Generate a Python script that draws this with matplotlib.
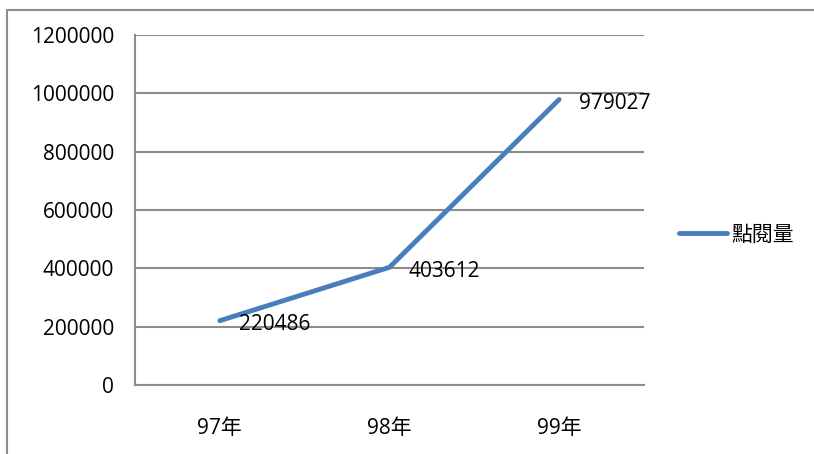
import matplotlib
matplotlib.use('Agg')
import matplotlib.pyplot as plt
from matplotlib.patches import Rectangle

years = ['97年', '98年', '99年']
views = [220486, 403612, 979027]
yticks = [0, 200000, 400000, 600000, 800000, 1000000, 1200000]

fonts = ['Open Sans', 'Noto Sans CJK TC', 'DejaVu Sans']
plt.rcParams['font.family'] = fonts
grey = '#8c8c8c'
blue = '#4a7ebb'

W, H = 814, 454
fig = plt.figure(figsize=(W / 100, H / 100), dpi=100)
ax = fig.add_axes([135 / W, 1 - 385 / H, (644 - 135) / W, (385 - 35) / H])

# outer chart border (only top and left are inside the picture)
fig.add_artist(Rectangle((7 / W, -0.2), 1.2, 1 - 10 / H + 0.2,
                         transform=fig.transFigure, fill=False,
                         edgecolor=grey, lw=1.5))

x = range(len(years))
ax.plot(x, views, color=blue, lw=3.5, solid_capstyle='round', label='點閱量')
for i, v in zip(x, views):
    ax.annotate(str(v), (i, v), xytext=(14, -3), textcoords='offset points',
                ha='left', va='center', fontsize=15, color='black')

ax.set_xlim(-0.5, 2.5)
ax.set_ylim(0, 1200000)
ax.set_yticks(yticks)
ax.set_yticklabels([str(t) for t in yticks])
ax.set_xticks(list(x))
ax.set_xticklabels(years)
ax.tick_params(axis='y', length=0, pad=15, labelsize=15)
ax.tick_params(axis='x', length=0, pad=24, labelsize=15)
ax.yaxis.grid(True, color=grey, lw=1.5)
ax.set_axisbelow(True)
for s in ['top', 'right']:
    ax.spines[s].set_visible(False)
for s in ['left', 'bottom']:
    ax.spines[s].set_color(grey)
    ax.spines[s].set_linewidth(1.5)

fig.legend(loc='center left', bbox_to_anchor=(660 / W, 1 - 235 / H),
           frameon=False, fontsize=15, handlelength=2.3, handletextpad=0.2)

fig.savefig('out.png', dpi=100)
